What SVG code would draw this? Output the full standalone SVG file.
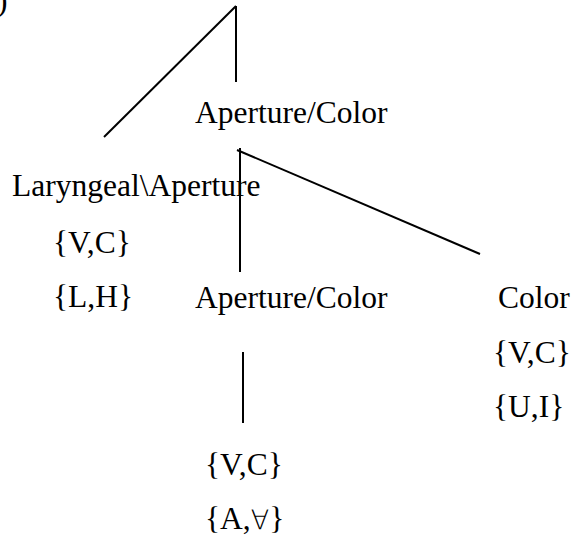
<svg xmlns="http://www.w3.org/2000/svg" width="575" height="540" viewBox="0 0 575 540">
<style>
text{font-family:"Liberation Serif","Times New Roman",serif;font-size:31.5px;fill:#000}
.c{stroke:#000;stroke-width:2;fill:none}
.sym{font-family:"DejaVu Sans",sans-serif;font-weight:200;font-size:27px}
</style>
<rect width="575" height="540" fill="#fff"/>
<g id="connectors">
<line class="c" x1="236" y1="6" x2="104" y2="137"/>
<line class="c" x1="236" y1="6" x2="236" y2="82"/>
<line class="c" x1="240" y1="148" x2="240" y2="272"/>
<line class="c" x1="237" y1="150" x2="480" y2="254"/>
<line class="c" x1="243" y1="352" x2="243" y2="423"/>
</g>
<g id="paren"><text x="-3" y="11">)</text></g>
<g id="top-aperture-color"><text x="195" y="123">Aperture/Color</text></g>
<g id="laryngeal"><text x="12" y="196">Laryngeal\Aperture</text>
<text x="53" y="253">{V,C}</text>
<text x="53" y="307">{L,H}</text></g>
<g id="aperture-color"><text x="195" y="308">Aperture/Color</text></g>
<g id="color"><text x="498" y="308">Color</text>
<text x="493" y="363">{V,C}</text>
<text x="493" y="417">{U,I}</text></g>
<g id="aperture-features"><text x="205" y="475">{V,C}</text>
<text x="205" y="529">{A,<tspan class="sym">∀</tspan>}</text></g>
</svg>
